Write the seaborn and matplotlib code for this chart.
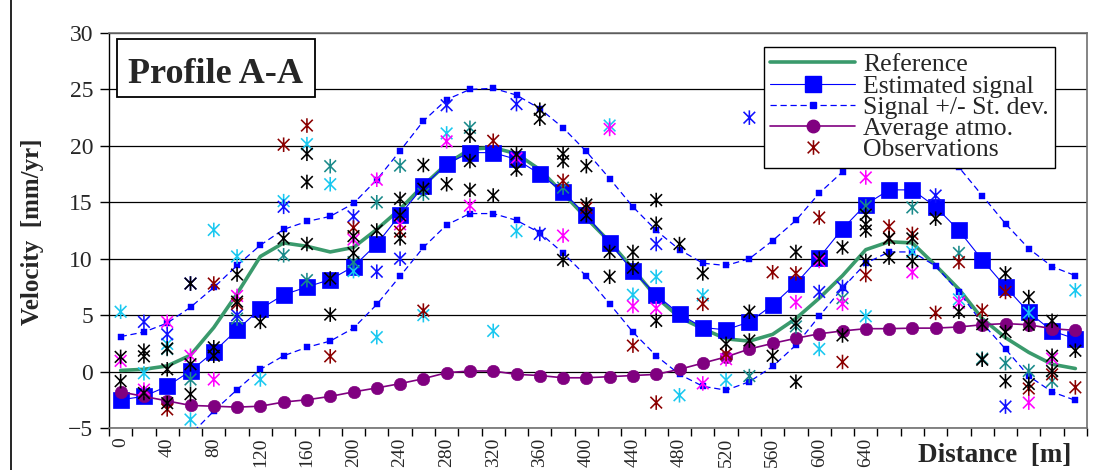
import numpy as np
import pandas as pd
import matplotlib
matplotlib.use("Agg")
import matplotlib.pyplot as plt
from matplotlib.path import Path
from matplotlib.lines import Line2D
from matplotlib.patches import Rectangle
from matplotlib.ticker import MultipleLocator, FixedLocator
import seaborn as sns

# ---- profile stations (m) --------------------------------------------------
distance = np.arange(0, 840, 20)

# ---- velocity series (mm/yr) ------------------------------------------------
reference = [0.1, 0.2, 0.5, 1.45, 3.9, 6.9, 10.2, 11.4, 11.1, 10.6, 11.0, 12.6,
             14.4, 16.5, 18.4, 19.7, 19.85, 19.3, 17.9, 15.8, 13.6, 11.5, 9.1,
             6.6, 4.8, 3.8, 2.9, 2.7, 3.3, 4.7, 6.5, 8.5, 10.8, 11.5, 11.4, 9.4,
             7.3, 4.7, 3.0, 1.7, 0.65, 0.27]
estimated = [-2.5, -2.2, -1.3, 0.05, 1.75, 3.7, 5.55, 6.8, 7.5, 8.15, 9.3, 11.3,
             13.9, 16.4, 18.4, 19.4, 19.4, 18.8, 17.5, 15.9, 13.85, 11.4, 8.9,
             6.8, 5.1, 3.9, 3.7, 4.4, 5.9, 7.8, 10.1, 12.65, 14.8, 16.1, 16.1,
             14.6, 12.5, 9.9, 7.5, 5.25, 3.6, 2.9]
sd_upper = [3.1, 3.5, 4.3, 5.7, 7.45, 9.4, 11.2, 12.6, 13.3, 13.75, 14.9, 17.0,
            19.55, 22.2, 24.1, 25.0, 25.1, 24.5, 23.3, 21.6, 19.5, 17.1, 14.6,
            12.5, 10.8, 9.6, 9.4, 10.0, 11.6, 13.4, 15.8, 17.7, 20.4, 21.7,
            21.7, 20.3, 18.1, 15.6, 13.1, 10.9, 9.3, 8.5]
sd_lower = [-7.9, -7.5, -6.9, -5.6, -3.5, -1.6, 0.2, 1.4, 2.15, 2.7, 3.85, 5.95,
            8.45, 11.0, 13.0, 14.0, 14.0, 13.4, 12.3, 10.5, 8.45, 6.0, 3.5, 1.4,
            -0.25, -1.3, -1.65, -0.9, 0.45, 2.35, 4.9, 7.4, 9.6, 10.6, 10.6,
            9.35, 7.05, 4.3, 2.0, -0.4, -1.8, -2.55]
atmo = [-1.8, -2.2, -2.6, -3.0, -3.07, -3.15, -3.07, -2.7, -2.5, -2.2, -1.8,
        -1.45, -1.07, -0.63, -0.1, 0.05, 0.05, -0.25, -0.35, -0.55, -0.55, -0.45,
        -0.35, -0.25, 0.2, 0.75, 1.3, 2.0, 2.5, 2.95, 3.35, 3.6, 3.8, 3.8, 3.85,
        3.85, 3.95, 4.15, 4.25, 4.15, 3.8, 3.65]

# ---- individual observations, grouped by colour ----------------------------
obs_black_x = [0, 0, 20, 20, 20, 40, 40, 40, 60, 60, 60, 80, 80, 100, 100, 120,
               140, 160, 160, 160, 180, 180, 200, 200, 220, 240, 240, 240, 260,
               260, 280, 300, 300, 300, 320, 340, 340, 360, 360, 380, 380, 380,
               400, 400, 400, 420, 420, 440, 440, 460, 460, 460, 480, 500, 520,
               540, 540, 560, 580, 580, 580, 600, 620, 620, 640, 640, 640, 640,
               660, 660, 680, 680, 700, 720, 740, 740, 760, 760, 760, 780, 780,
               780, 800, 800, 800, 820]
obs_black_y = [1.3, -0.85, 1.85, 1.35, -1.9, 2.05, 0.2, -2.8, 7.8, 0.65, -2.0,
               2.15, 1.4, 8.6, 6.2, 4.4, 11.8, 19.3, 16.8, 11.3, 8.25, 5.05,
               12.0, 10.5, 12.5, 15.3, 13.85, 11.8, 18.3, 16.2, 16.6, 20.9,
               18.65, 16.1, 15.6, 19.25, 17.9, 23.2, 22.4, 19.3, 18.65, 9.9,
               18.2, 14.8, 13.85, 10.6, 8.4, 10.6, 9.2, 15.2, 13.1, 4.5, 11.3,
               8.7, 2.45, 5.3, 2.75, 1.4, 10.6, 4.3, -0.9, 10.0, 11.0, 3.2, 13.9,
               13.05, 12.5, 9.8, 11.8, 10.1, 11.8, 9.8, 13.55, 5.3, 4.2, 1.05,
               8.7, 3.5, -0.85, 6.6, 4.15, -1.1, 4.5, 1.4, 0.05, 1.85]
obs_darkred_x = [40, 80, 100, 140, 160, 180, 200, 240, 260, 320, 380, 400, 440,
                 460, 500, 520, 560, 580, 600, 620, 640, 660, 660, 680, 700,
                 720, 740, 760, 780, 800, 820]
obs_darkred_y = [-3.35, 7.8, 6.0, 20.1, 21.8, 1.35, 12.75, 12.4, 5.4, 20.45,
                 16.9, 14.5, 2.3, -2.75, 6.0, 1.55, 8.8, 8.7, 13.65, 0.85, 8.55,
                 12.85, 11.8, 12.2, 5.2, 9.7, 5.4, 7.05, -1.5, -0.25, -1.4]
obs_magenta_x = [0, 20, 40, 60, 80, 100, 200, 220, 240, 280, 300, 340, 380, 420,
                 440, 460, 500, 520, 580, 600, 620, 640, 680, 720, 780, 800]
obs_magenta_y = [0.95, -1.6, 4.4, 1.4, -0.7, 6.7, 11.7, 17.0, 13.05, 20.4, 14.7,
                 18.9, 12.05, 21.5, 5.8, 5.6, -1.05, 1.1, 6.15, 9.8, 6.0, 17.2,
                 8.8, 6.1, -2.75, 1.15]
obs_cyan_x = [0, 20, 40, 60, 80, 100, 120, 140, 160, 180, 200, 220, 260, 280,
              320, 340, 420, 440, 460, 480, 500, 520, 600, 640, 680, 720, 780,
              820]
obs_cyan_y = [5.3, -0.15, 2.45, -4.25, 12.55, 10.2, -0.7, 15.1, 20.15, 16.6, 8.9,
              3.05, 5.0, 21.1, 3.6, 12.45, 21.8, 6.8, 8.4, -2.1, 6.75, -0.75,
              2.0, 4.9, 10.6, 6.4, 5.2, 7.2]
obs_teal_x = [40, 60, 100, 140, 160, 180, 200, 220, 240, 260, 300, 380, 540, 580,
              620, 640, 680, 720, 740, 760, 780, 800]
obs_teal_y = [2.0, -0.7, 4.7, 10.3, 8.1, 18.2, 9.7, 15.0, 18.25, 15.75, 21.6,
              16.3, -0.4, 4.0, 6.5, 14.65, 14.55, 10.5, 1.15, 0.75, 0.05, -0.85]
obs_blue_x = [20, 40, 60, 100, 140, 200, 220, 240, 280, 340, 360, 460, 540, 600,
              620, 700, 760]
obs_blue_y = [4.4, 3.3, 7.8, 5.0, 14.6, 13.75, 8.85, 10.0, 23.6, 23.7, 12.2,
              11.3, 22.5, 7.05, 7.5, 15.6, -3.1]

# ---- styling ---------------------------------------------------------------
sns.set_style("white")
plt.rcParams["font.family"] = ["Liberation Serif", "DejaVu Serif"]

C_REF = "#3a9a6c"
C_EST = "#0000ff"
C_ATM = "#800080"
obs_sets = [
    (obs_cyan_x, obs_cyan_y, "#19c8f0"),
    (obs_teal_x, obs_teal_y, "#1a8a8a"),
    (obs_magenta_x, obs_magenta_y, "#ff00ff"),
    (obs_blue_x, obs_blue_y, "#1010ff"),
    (obs_darkred_x, obs_darkred_y, "#8b0000"),
    (obs_black_x, obs_black_y, "#000000"),
]

# asterisk marker: vertical bar plus an X
star = Path([(0, -1), (0, 1), (-0.8, -0.8), (0.8, 0.8), (-0.8, 0.8), (0.8, -0.8)],
            [Path.MOVETO, Path.LINETO] * 3)

W, H = 1093, 470
fig = plt.figure(figsize=(W / 100, H / 100), dpi=100)
ax = fig.add_axes([109 / W, 1 - 428 / H, (1087 - 109) / W, (428 - 33) / H])

profile = pd.DataFrame({"distance": distance, "reference": reference,
                        "estimated": estimated, "upper": sd_upper,
                        "lower": sd_lower, "atmo": atmo})

sns.lineplot(data=profile, x="distance", y="reference", ax=ax, color=C_REF,
             lw=2.6, estimator=None, zorder=3)
sns.lineplot(data=profile, x="distance", y="estimated", ax=ax, color=C_EST,
             lw=0.8, marker="s", markersize=12, markeredgewidth=0.5,
             markeredgecolor=C_EST, estimator=None, zorder=4)
for col in ("upper", "lower"):
    sns.lineplot(data=profile, x="distance", y=col, ax=ax, color=C_EST,
                 lw=0.9, linestyle=(0, (5, 3)), marker="s", markersize=4,
                 markeredgewidth=0.3, markeredgecolor=C_EST, estimator=None,
                 zorder=5)
sns.lineplot(data=profile, x="distance", y="atmo", ax=ax, color=C_ATM, lw=1.2,
             marker="o", markersize=9, markeredgewidth=0.4,
             markeredgecolor=C_ATM, estimator=None, zorder=6)

for xs, ys, c in obs_sets:
    sns.scatterplot(x=xs, y=ys, ax=ax, marker=star, s=110, color=c,
                    facecolor="none", edgecolor=c, linewidth=1.15, zorder=7)

# ---- axes ------------------------------------------------------------------
ax.set_xlim(-10, 830)
ax.set_ylim(-5, 30)
ax.set_xlabel("")
ax.set_ylabel("")

ax.yaxis.set_major_locator(MultipleLocator(5))
ax.yaxis.grid(True, color="black", lw=0.9)
ygl = ax.get_ygridlines()
ygl[0].set_visible(False)
ygl[-1].set_visible(False)
ax.xaxis.grid(False)

ax.xaxis.set_major_locator(FixedLocator(np.arange(0, 641, 40)))
ax.xaxis.set_minor_locator(FixedLocator(np.arange(-10, 831, 20)))
ax.set_xticklabels([str(v) for v in range(0, 641, 40)], rotation=90,
                   fontsize=14)
ax.tick_params(axis="x", which="major", length=0, pad=7)
ax.tick_params(axis="x", which="minor", length=6, width=1, color="black",
               direction="out", bottom=True)
ax.tick_params(axis="y", which="major", length=6.5, width=1, color="black",
               direction="out", left=True, labelsize=17, pad=5)

for side in ("top", "right", "bottom"):
    ax.spines[side].set_color("#707070")
    ax.spines[side].set_linewidth(1.2)
ax.spines["left"].set_color("black")
ax.spines["left"].set_linewidth(1.0)

# ---- labels ----------------------------------------------------------------
fig.text(33 / W, 1 - 232 / H, "Velocity  [mm/yr]", rotation=90, fontsize=18,
         fontweight="bold", ha="center", va="center")
fig.text(995 / W, 1 - 462.5 / H, "Distance  [m]", fontsize=19.5,
         fontweight="bold", ha="center", va="baseline")

fig.add_artist(Rectangle((117 / W, 1 - 97 / H), 198 / W, 58 / H,
                         transform=fig.transFigure, facecolor="white",
                         edgecolor="black", lw=1.3, zorder=10))
fig.text(216 / W, 1 - 82.7 / H, "Profile A-A", fontsize=26, fontweight="bold",
         ha="center", va="baseline", zorder=11)

fig.add_artist(Line2D([11 / W, 11 / W], [0, 1], transform=fig.transFigure,
                      color="black", lw=1.2))

# ---- legend ----------------------------------------------------------------
handles = [
    Line2D([], [], color=C_REF, lw=2.6),
    Line2D([], [], color=C_EST, lw=0.8, marker="s", markersize=12),
    Line2D([], [], color=C_EST, lw=0.9, linestyle=(0, (5, 3)), marker="s",
           markersize=4),
    Line2D([], [], color=C_ATM, lw=1.2, marker="o", markersize=9),
    Line2D([], [], color="#8b0000", lw=0, marker=star, markersize=10.5,
           markerfacecolor="none", markeredgewidth=1.15),
]
labels = ["Reference", "Estimated signal", "Signal +/- St. dev.",
          "Average atmo.", "Observations"]
leg = ax.legend(handles, labels, loc="upper left",
                bbox_to_anchor=(764 / W, 1 - 47 / H),
                bbox_transform=fig.transFigure, fontsize=18.5, numpoints=1,
                handlelength=3.3, handletextpad=0.3, labelspacing=-0.07,
                borderpad=0.25, borderaxespad=0, fancybox=False, framealpha=1,
                edgecolor="black")
leg.get_frame().set_linewidth(1.0)
leg.set_zorder(20)

fig.savefig("out.png", dpi=100)
